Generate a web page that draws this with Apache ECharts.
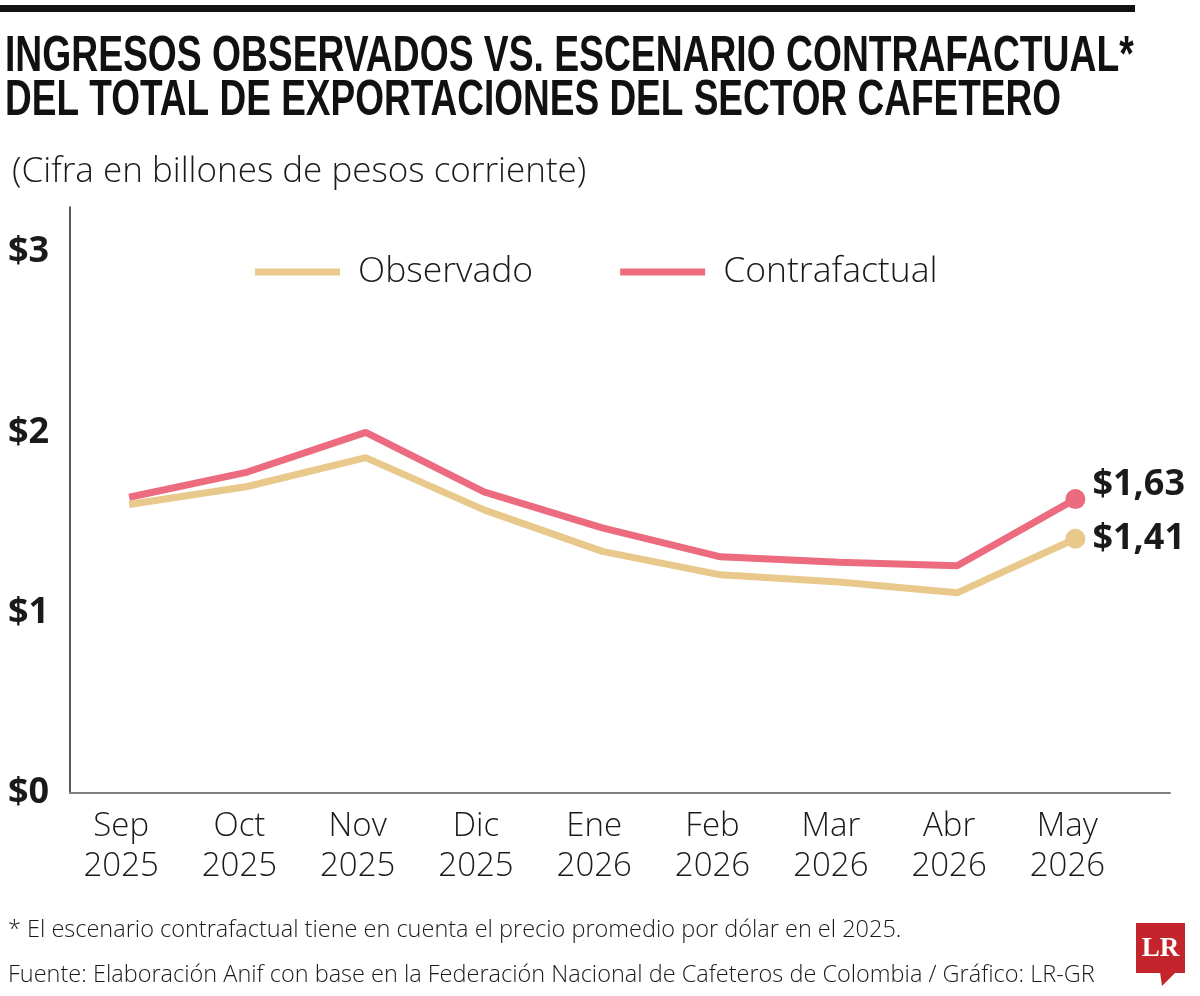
<!DOCTYPE html>
<html>
<head>
<meta charset="utf-8">
<script src="https://cdn.jsdelivr.net/npm/echarts@6/dist/echarts.min.js"></script>
<style>
html,body{margin:0;padding:0;background:#fff;}
#chart{width:1200px;height:996px;}
</style>
</head>
<body>
<div id="chart"></div>
<script>
// ---- data ----
const months = ['Sep', 'Oct', 'Nov', 'Dic', 'Ene', 'Feb', 'Mar', 'Abr', 'May'];
const years = ['2025', '2025', '2025', '2025', '2026', '2026', '2026', '2026', '2026'];
const observado = [1.60, 1.70, 1.86, 1.57, 1.34, 1.21, 1.17, 1.11, 1.41];
const contrafactual = [1.64, 1.78, 2.00, 1.67, 1.47, 1.31, 1.28, 1.26, 1.63];
const yTicks = [0, 1, 2, 3];
const seriesNames = ['Observado', 'Contrafactual'];

const titleLine1 = 'INGRESOS OBSERVADOS VS. ESCENARIO CONTRAFACTUAL*';
const titleLine2 = 'DEL TOTAL DE EXPORTACIONES DEL SECTOR CAFETERO';
const subtitle = '(Cifra en billones de pesos corriente)';
const note = '* El escenario contrafactual tiene en cuenta el precio promedio por dólar en el 2025.';
const source = 'Fuente: Elaboración Anif con base en la Federación Nacional de Cafeteros de Colombia / Gráfico: LR-GR';

const YELLOW = '#E9C98B';
const RED = '#EC6B7E';
const TXT = '#1a1a1a';
const FONT = '"Open Sans", "Noto Sans", sans-serif';

function fmtMoney(v) { return '$' + v.toFixed(2).replace('.', ','); }

function buildData(arr, labelOffsetY) {
  const last = arr.length - 1;
  return arr.map(function (v, i) {
    if (i !== last) return [i, v];
    return {
      value: [i, v],
      symbol: 'circle',
      symbolSize: 20,
      label: {
        show: true,
        position: 'right',
        distance: 7,
        offset: [0, labelOffsetY],
        formatter: function (p) { return fmtMoney(p.value[1]); },
        fontFamily: FONT,
        fontWeight: 'bold',
        fontSize: 36,
        color: TXT
      }
    };
  });
}

const chart = echarts.init(document.getElementById('chart'), null, { renderer: 'canvas' });

const option = {
  backgroundColor: '#fff',
  animation: false,
  grid: { left: 70, right: 30, top: 207, bottom: 203, containLabel: false },
  legend: {
    left: 250,
    top: 249,
    icon: 'rect',
    itemWidth: 85,
    itemHeight: 7,
    itemGap: 87,
    data: seriesNames,
    textStyle: {
      fontFamily: FONT,
      fontWeight: 300,
      fontSize: 35.5,
      color: TXT,
      padding: [0, 0, 0, 13]
    }
  },
  xAxis: {
    type: 'value',
    min: -0.5,
    max: 8.8,
    interval: 0.5,
    splitLine: { show: false },
    axisTick: { show: false },
    axisLine: { show: true, onZero: false, lineStyle: { color: '#808080', width: 2 } },
    axisLabel: {
      showMinLabel: true,
      showMaxLabel: true,
      margin: 14,
      fontFamily: FONT,
      fontWeight: 300,
      fontSize: 33,
      lineHeight: 40,
      color: TXT,
      padding: [0, 16, 0, 0],
      formatter: function (v) {
        const r = Math.round(v);
        if (Math.abs(v - r) > 1e-6 || r < 0 || r >= months.length) return '';
        return months[r] + '\n' + years[r];
      }
    }
  },
  yAxis: {
    type: 'value',
    min: 0,
    max: 3.25,
    interval: 1,
    splitLine: { show: false },
    axisTick: { show: false },
    axisLine: { show: true, onZero: false, lineStyle: { color: '#222', width: 1.5 } },
    axisLabel: {
      align: 'left',
      margin: 62,
      fontFamily: FONT,
      fontWeight: 'bold',
      fontSize: 36,
      color: TXT,
      formatter: function (v) {
        return yTicks.indexOf(v) >= 0 ? '$' + v : '';
      }
    }
  },
  series: [
    {
      name: seriesNames[0],
      type: 'line',
      data: buildData(observado, 0),
      symbol: 'none',
      showSymbol: true,
      color: YELLOW,
      lineStyle: { width: 7, color: YELLOW },
      itemStyle: { color: YELLOW },
      z: 2
    },
    {
      name: seriesNames[1],
      type: 'line',
      data: buildData(contrafactual, -14),
      symbol: 'none',
      showSymbol: true,
      color: RED,
      lineStyle: { width: 7, color: RED },
      itemStyle: { color: RED },
      z: 3
    }
  ],
  graphic: [
    { type: 'rect', shape: { x: 0, y: 5, width: 1135, height: 7 }, style: { fill: '#111' } },
    {
      type: 'text', x: 5, y: 57, scaleX: 0.745,
      style: { text: titleLine1, font: 'bold 50px "Liberation Sans", Arial, sans-serif', fill: '#111', align: 'left', verticalAlign: 'middle' }
    },
    {
      type: 'text', x: 5, y: 101, scaleX: 0.74,
      style: { text: titleLine2, font: 'bold 50px "Liberation Sans", Arial, sans-serif', fill: '#111', align: 'left', verticalAlign: 'middle' }
    },
    {
      type: 'text', x: 12, y: 172,
      style: { text: subtitle, font: '300 35px "Open Sans", sans-serif', fill: TXT, align: 'left', verticalAlign: 'middle' }
    },
    {
      type: 'text', x: 8, y: 930,
      style: { text: note, font: '300 23.5px "Open Sans", sans-serif', fill: TXT, align: 'left', verticalAlign: 'middle' }
    },
    {
      type: 'text', x: 8, y: 975,
      style: { text: source, font: '300 23.5px "Open Sans", sans-serif', fill: TXT, align: 'left', verticalAlign: 'middle' }
    },
    { type: 'rect', shape: { x: 1136, y: 923, width: 49, height: 50 }, style: { fill: '#C4252C' } },
    { type: 'polygon', shape: { points: [[1160, 972], [1176, 972], [1162, 986]] }, style: { fill: '#C4252C' } },
    {
      type: 'text', x: 1160.5, y: 949,
      style: { text: 'LR', font: 'bold 27px "Liberation Serif", "DejaVu Serif", serif', fill: '#fff', align: 'center', verticalAlign: 'middle' }
    }
  ]
};

chart.setOption(option);
</script>
</body>
</html>
